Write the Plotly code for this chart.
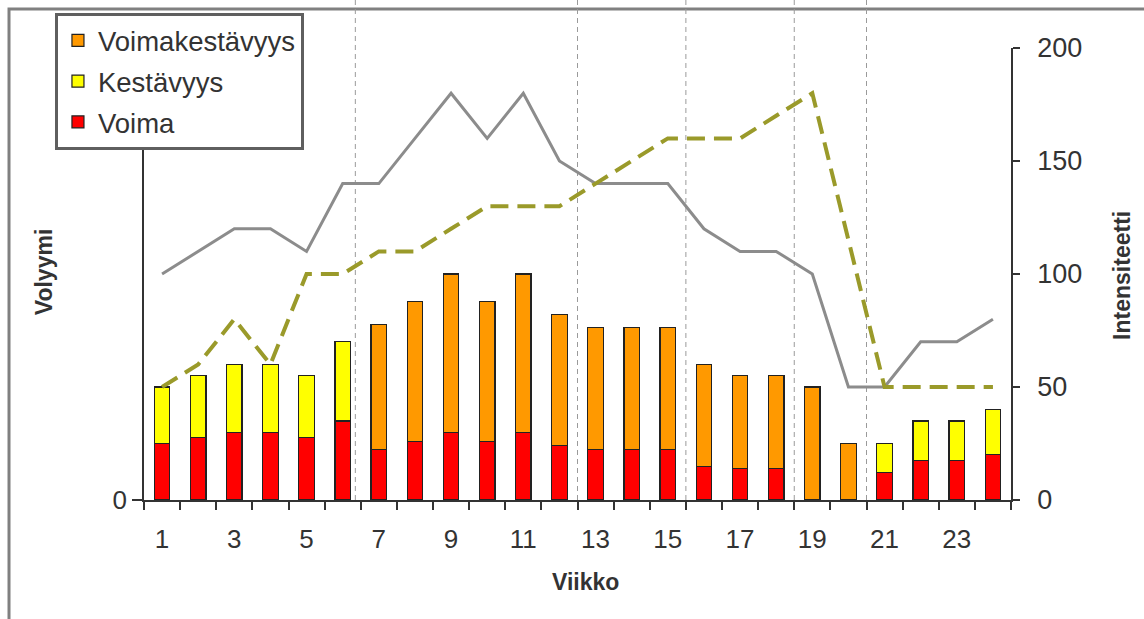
import plotly.graph_objects as go

# Weekly training plan: volume by training type (bars) and intensity (lines)
weeks = list(range(1, 25))

voima = [25, 27.5, 30, 30, 27.5, 35, 22.5, 26, 30, 26, 30, 24,
         22.5, 22.5, 22.5, 15, 14, 14, None, None, 12, 17.5, 17.5, 20]
kestavyys = [25, 27.5, 30, 30, 27.5, 35, None, None, None, None, None, None,
             None, None, None, None, None, None, None, None, 13, 17.5, 17.5, 20]
voimakestavyys = [None, None, None, None, None, None, 55, 62, 70, 62, 70, 58,
                  54, 54, 54, 45, 41, 41, 50, 25, None, None, None, None]

intensity_solid = [100, 110, 120, 120, 110, 140, 140, 160, 180, 160, 180, 150,
                   140, 140, 140, 120, 110, 110, 100, 50, 50, 70, 70, 80]
intensity_dashed = [50, 60, 80, 60, 100, 100, 110, 110, 120, 130, 130, 130,
                    140, 150, 160, 160, 160, 170, 180, 115, 50, 50, 50, 50]

phase_dividers = [6.35, 12.5, 15.5, 18.5, 20.5]
x_tick_labels = [str(w) for w in range(1, 24, 2)]
right_ticks = [0, 50, 100, 150, 200]

FONT = "Liberation Sans, Arial, sans-serif"
TXT = "#333333"
AX = "#333333"

fig = go.Figure()

bar_line = dict(color="#222222", width=1.2)
fig.add_trace(go.Bar(x=weeks, y=voima, name="Voima",
                     marker=dict(color="#ff0000", line=bar_line),
                     legendgroup="a", legendrank=3))
fig.add_trace(go.Bar(x=weeks, y=kestavyys, name="Kestävyys",
                     marker=dict(color="#ffff00", line=bar_line),
                     legendgroup="b", legendrank=2))
fig.add_trace(go.Bar(x=weeks, y=voimakestavyys, name="Voimakestävyys",
                     marker=dict(color="#ff9900", line=bar_line),
                     legendgroup="c", legendrank=1))

fig.add_trace(go.Scatter(x=weeks, y=intensity_solid, mode="lines",
                         line=dict(color="#8c8c8c", width=3),
                         yaxis="y2", showlegend=False))
fig.add_trace(go.Scatter(x=weeks, y=intensity_dashed, mode="lines",
                         line=dict(color="#9a9a2a", width=4, dash="18px,9px"),
                         yaxis="y2", showlegend=False))

# outer chart frame (top and left edges visible)
fig.add_shape(type="rect", xref="paper", yref="paper",
              x0=-0.1557, x1=1.3, y0=-0.4, y1=1.0863,
              line=dict(color="#808080", width=3), layer="below")

# phase dividers
for d in phase_dividers:
    fig.add_shape(type="line", xref="x", yref="paper",
                  x0=d, x1=d, y0=0, y1=1.11,
                  line=dict(color="#9a9a9a", width=1, dash="5px,4px"),
                  layer="below")

title_font = dict(family=FONT, size=23, color=TXT)
fig.add_annotation(text="<b>Volyymi</b>", xref="paper", yref="paper",
                   x=-0.1153, y=0.504, textangle=-90, showarrow=False,
                   xanchor="center", yanchor="middle", font=title_font)
fig.add_annotation(text="<b>Intensiteetti</b>", xref="paper", yref="paper",
                   x=1.128, y=0.498, textangle=-90, showarrow=False,
                   xanchor="center", yanchor="middle", font=title_font)
fig.add_annotation(text="<b>Viikko</b>", xref="paper", yref="paper",
                   x=0.5087, y=-0.181, showarrow=False,
                   xanchor="center", yanchor="middle", font=title_font)

fig.update_layout(
    width=1144, height=619,
    margin=dict(l=144, r=133, t=48, b=119),
    paper_bgcolor="white", plot_bgcolor="white",
    barmode="stack", bargap=0.57,
    font=dict(family=FONT, size=26, color=TXT),
    showlegend=True,
    legend=dict(x=-0.1027, y=1.0774, xanchor="left", yanchor="top",
                traceorder="grouped", tracegroupgap=2,
                bgcolor="white", bordercolor="#5f5f5f", borderwidth=3,
                font=dict(family=FONT, size=27.5, color=TXT)),
    xaxis=dict(range=[0.5, 24.5], tickmode="array",
               tickvals=list(range(1, 24, 2)), ticktext=x_tick_labels,
               ticks="outside", ticklen=15, tickcolor="rgba(0,0,0,0)",
               minor=dict(tickmode="array",
                          tickvals=[w + 0.5 for w in range(0, 25)],
                          ticks="outside", ticklen=8, tickwidth=1.5,
                          tickcolor=AX),
               showgrid=False, zeroline=False,
               showline=True, linecolor=AX, linewidth=1.5,
               tickfont=dict(size=26)),
    yaxis=dict(range=[0, 200], tickmode="array", tickvals=[0], ticktext=["0"],
               ticks="outside", ticklen=10, tickwidth=1.5, tickcolor=AX,
               showgrid=False, zeroline=False,
               showline=True, linecolor=AX, linewidth=1.5,
               tickfont=dict(size=26)),
    yaxis2=dict(range=[0, 200], overlaying="y", side="right", anchor="x",
                tickmode="array", tickvals=right_ticks,
                ticks="outside", ticklen=7, tickwidth=1.5, tickcolor=AX,
                ticklabelstandoff=12,
                showgrid=False, zeroline=False,
                showline=True, linecolor=AX, linewidth=1.5,
                tickfont=dict(size=27)),
    yaxis3=dict(range=[0, 200], overlaying="y", side="right", anchor="x",
                tickmode="array", tickvals=right_ticks,
                ticks="inside", ticklen=10, tickwidth=1.5, tickcolor=AX,
                showticklabels=False, showgrid=False, zeroline=False,
                showline=False),
)

fig.write_html("out.html")
